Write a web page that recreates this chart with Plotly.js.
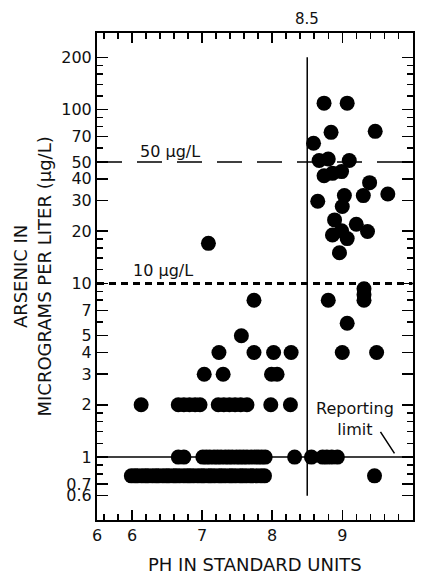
<!DOCTYPE html>
<html>
<head>
<meta charset="utf-8">
<script src="https://cdn.plot.ly/plotly-3.0.1.min.js"></script>
<style>html,body{margin:0;padding:0;background:#fff;}</style>
</head>
<body>
<div id="chart" style="width:422px;height:575px;"></div>
<script>
// Samples below the reporting limit (plotted at 0.78 µg/L)
const belowLimitPH = [5.99, 6.04, 6.08, 6.14, 6.19, 6.23, 6.29, 6.34, 6.38, 6.44, 6.49, 6.53, 6.59, 6.63, 6.68, 6.74, 6.79, 6.83, 6.88, 6.94, 6.99, 7.03, 7.09, 7.13, 7.18, 7.24, 7.28, 7.33, 7.39, 7.43, 7.48, 7.54, 7.58, 7.63, 7.69, 7.73, 7.78, 7.84, 7.89, 9.46];
const belowLimitValue = 0.78;
// Samples at the reporting limit (1 µg/L)
const atLimitPH = [6.66, 6.74, 7.01, 7.06, 7.11, 7.17, 7.22, 7.27, 7.33, 7.38, 7.43, 7.49, 7.54, 7.59, 7.64, 7.70, 7.75, 7.80, 7.85, 7.90, 8.32, 8.56, 8.72, 8.78, 8.85, 8.93];
const atLimitValue = 1;
// Detected samples
const detectPH = [6.13, 6.66, 6.74, 6.82, 6.90, 6.97, 7.23, 7.31, 7.39, 7.47, 7.55, 7.64, 7.98, 8.26,
  7.03, 7.30, 7.99, 8.07,
  7.24, 7.74, 8.02, 8.27,
  7.56, 7.74, 7.09,
  8.80, 9.31, 9.31, 9.31, 9.07, 9.00, 9.49,
  8.96, 8.86, 9.07, 8.99, 9.36, 9.20, 8.89, 9.00, 8.65, 9.03, 9.30, 9.65, 9.39,
  8.74, 8.86, 8.99, 8.67, 8.80, 9.10, 8.59, 8.84, 9.47, 8.74, 9.07];
const detectAs = [2, 2, 2, 2, 2, 2, 2, 2, 2, 2, 2, 2, 2, 2,
  3, 3, 3, 3,
  4, 4, 4, 4,
  5, 8, 17,
  8, 8, 8.6, 9.3, 5.9, 4, 4,
  15, 19, 18.1, 20.1, 19.9, 21.9, 23.2, 27.7, 29.7, 32, 32, 32.7, 38,
  41.6, 43, 44, 51, 52, 51, 64, 74, 75, 109, 109];

// Guideline levels and the pH 8.5 reference
const mclLevels = [1, 10, 50];
const phReference = 8.5;
const xRange = [5.5, 10];
const yRange = [0.6, 200];

// Tick labels
const xTickVals = [5.5, 6, 7, 8, 9, 10];
const xTickText = ['6', '6', '7', '8', '9', '10'];
const yTickVals = [0.6, 0.7, 1, 2, 3, 4, 5, 7, 10, 20, 30, 40, 50, 70, 100, 200];
const yTickText = ['0.6', '0.7', '1', '2', '3', '4', '5', '7', '10', '20', '30', '40', '50', '70', '100', '200'];
const yMinorVals = [0.8, 0.9, 1.2, 1.4, 1.6, 1.8, 6, 8, 9, 12, 14, 16, 18, 60, 80, 90, 120, 140, 160, 180];

const FONT = 'DejaVu Sans, Liberation Sans, Arial, sans-serif';
const INK = '#111';
const CLEAR = 'rgba(0,0,0,0)';

const allX = belowLimitPH.concat(atLimitPH, detectPH);
const allY = belowLimitPH.map(() => belowLimitValue)
  .concat(atLimitPH.map(() => atLimitValue), detectAs);

const lineStyles = [
  {width: 1.5, dash: 'solid'},
  {width: 3, dash: '7px,5px'},
  {width: 1.5, dash: '25px,15px'}
];

const traces = [];
// Invisible frame that makes the automatic axis range fit the plot bounds exactly
traces.push({
  x: [xRange[0], xRange[1], xRange[1], xRange[0], xRange[0]],
  y: [yRange[0], yRange[0], yRange[1], yRange[1], yRange[0]],
  mode: 'lines', fill: 'toself', fillcolor: CLEAR, line: {width: 0, color: CLEAR}, hoverinfo: 'skip'
});
mclLevels.forEach((lv, i) => {
  traces.push({
    x: xRange, y: [lv, lv], mode: 'lines', hoverinfo: 'skip', fill: 'toself', fillcolor: CLEAR,
    line: {color: '#000', width: lineStyles[i].width, dash: lineStyles[i].dash}
  });
});
traces.push({
  x: [phReference, phReference], y: yRange, mode: 'lines', hoverinfo: 'skip', fill: 'toself', fillcolor: CLEAR,
  line: {color: '#000', width: 1.5}
});
traces.push({
  x: allX, y: allY, mode: 'markers', type: 'scatter', fill: 'toself', fillcolor: CLEAR,
  marker: {color: '#000', size: 15, line: {width: 0}},
  cliponaxis: false
});

const L = Math.log10;
const layout = {
  width: 422, height: 575,
  margin: {l: 97, r: 9, t: 33, b: 55, pad: 0},
  paper_bgcolor: '#fff', plot_bgcolor: '#fff',
  showlegend: false,
  font: {family: FONT, size: 16, color: INK},
  xaxis: {
    autorange: true, tickmode: 'array', tickvals: xTickVals, ticktext: xTickText,
    ticks: 'inside', ticklen: 10, tickwidth: 1.5, tickcolor: '#000',
    showline: true, linewidth: 2, linecolor: '#000', mirror: 'ticks',
    showgrid: false, zeroline: false,
    tickfont: {family: FONT, size: 16, color: INK},
    minor: {tick0: 0, dtick: 0.2, ticks: 'inside', ticklen: 6, tickwidth: 1.5, tickcolor: '#000', showgrid: false}
  },
  yaxis: {
    type: 'log', autorange: true,
    tickmode: 'array', tickvals: yTickVals, ticktext: yTickText,
    ticks: 'inside', ticklen: 11, tickwidth: 1.5, tickcolor: '#000',
    showline: true, linewidth: 2, linecolor: '#000', mirror: 'ticks',
    showgrid: false, zeroline: false,
    tickfont: {family: FONT, size: 16, color: INK},
    minor: {tickmode: 'array', tickvals: yMinorVals, ticks: 'inside', ticklen: 6, tickwidth: 1.5, tickcolor: '#000', showgrid: false}
  },
  annotations: [
    {text: '8.5', x: phReference, xref: 'x', y: 1.029, yref: 'paper', showarrow: false,
     font: {size: 15}, xanchor: 'center', yanchor: 'middle'},
    {text: '50 µg/L', x: 6.54, xref: 'x', y: 1.757, yref: 'y', showarrow: false,
     font: {size: 16}, xanchor: 'center', yanchor: 'middle'},
    {text: '10 µg/L', x: 6.44, xref: 'x', y: 1.073, yref: 'y', showarrow: false,
     font: {size: 16}, xanchor: 'center', yanchor: 'middle'},
    {text: 'Reporting<br>limit', x: 9.175, xref: 'x', y: 0.222, yref: 'y', showarrow: false,
     font: {size: 16}, xanchor: 'center', yanchor: 'middle'},
    {text: '', x: 9.745, xref: 'x', y: 0.021, yref: 'y', showarrow: true, arrowhead: 0,
     arrowwidth: 1.5, arrowcolor: '#000', ax: -15, ay: -23, standoff: 0, startstandoff: 0},
    {text: 'PH IN STANDARD UNITS', x: 0.5, xref: 'paper', y: -0.0924, yref: 'paper',
     showarrow: false, font: {size: 18}, xanchor: 'center', yanchor: 'middle'},
    {text: 'ARSENIC IN<br>MICROGRAMS PER LITER (µg/L)', x: -0.2057, xref: 'paper', y: 0.5, yref: 'paper',
     showarrow: false, textangle: -90, font: {size: 18}, xanchor: 'center', yanchor: 'middle'}
  ]
};

Plotly.newPlot('chart', traces, layout, {staticPlot: true, displayModeBar: false});
</script>
</body>
</html>
